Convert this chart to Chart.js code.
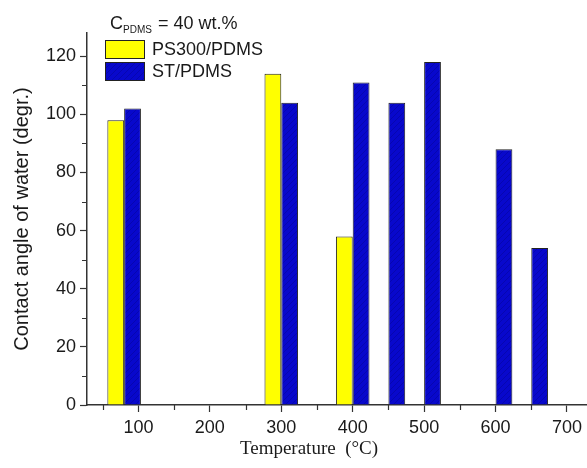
<!DOCTYPE html>
<html>
<head>
<meta charset="utf-8">
<script src="https://cdn.jsdelivr.net/npm/chart.js@4.4.1/dist/chart.umd.min.js"></script>
<style>
  html, body { margin: 0; padding: 0; background: #fff; }
  #wrap { width: 587px; height: 468px; }
</style>
</head>
<body>
<div id="wrap"><canvas id="myChart" width="587" height="468"></canvas></div>
<script>
// contact angle vs. annealing temperature
let ps300Temp = [80, 300, 400];
let ps300Angle = [98, 114, 58];
let stTemp = [80, 300, 400, 450, 500, 600, 650];
let stAngle = [102, 104, 111, 104, 118, 88, 54];

let xMajorTicks = [100, 200, 300, 400, 500, 600, 700];
let xMinorTicks = [50, 150, 250, 350, 450, 550, 650];
let yMajorTicks = [0, 20, 40, 60, 80, 100, 120];
let yMinorTicks = [10, 30, 50, 70, 90, 110];

let seriesNames = ["PS300/PDMS", "ST/PDMS"];

const axisColor = "#333";
const textColor = "#1a1a1a";
const sans = "'Liberation Sans', Arial, sans-serif";

// origin-like diagonal hatch for the blue bars
function hatch(color, line) {
  let c = document.createElement("canvas");
  c.width = 6;
  c.height = 6;
  let g = c.getContext("2d");
  g.fillStyle = color;
  g.fillRect(0, 0, 6, 6);
  g.strokeStyle = line;
  g.lineWidth = 1;
  g.beginPath();
  g.moveTo(0, 6); g.lineTo(6, 0);
  g.moveTo(-1, 1); g.lineTo(1, -1);
  g.moveTo(5, 7); g.lineTo(7, 5);
  g.stroke();
  return g.createPattern(c, "repeat");
}

const yellowFill = "#ffff00";
const blueFill = hatch("#0808cc", "#0606b0");

function toPoints(xs, ys) {
  return xs.map((x, i) => ({ x: x, y: ys[i] }));
}

// minor ticks, legend and x title drawn on top
const extras = {
  id: "extras",
  afterDraw(chart) {
    const c = chart.ctx;
    const xs = chart.scales.x;
    const ys = chart.scales.y;
    const area = chart.chartArea;
    c.save();
    c.strokeStyle = axisColor;
    c.lineWidth = 1.2;
    c.beginPath();
    xMinorTicks.forEach((v) => {
      let px = Math.round(xs.getPixelForValue(v)) + 0.5;
      c.moveTo(px, area.bottom);
      c.lineTo(px, area.bottom + 5);
    });
    yMinorTicks.forEach((v) => {
      let py = Math.round(ys.getPixelForValue(v)) + 0.5;
      c.moveTo(area.left, py);
      c.lineTo(area.left - 5, py);
    });
    c.stroke();

    // legend
    const lx = area.left + 18;
    c.fillStyle = textColor;
    c.textBaseline = "alphabetic";
    c.font = "18px " + sans;
    c.fillText("C", lx + 5, 29);
    let w = c.measureText("C").width;
    c.font = "10px " + sans;
    c.fillText("PDMS", lx + 5 + w, 33);
    let w2 = c.measureText("PDMS").width;
    c.font = "18px " + sans;
    c.fillText(" = 40 wt.%", lx + 5 + w + w2 + 1, 29);

    const fills = [yellowFill, blueFill];
    c.lineWidth = 1;
    c.strokeStyle = "#222";
    c.font = "18px " + sans;
    c.textBaseline = "middle";
    seriesNames.forEach((name, i) => {
      let top = 40 + i * 22;
      c.fillStyle = fills[i];
      c.fillRect(lx, top, 40, 19);
      c.strokeRect(lx + 0.5, top + 0.5, 39, 18);
      c.fillStyle = textColor;
      c.fillText(name, lx + 47, top + 10);
    });

    // x axis title
    c.font = "19px 'Liberation Serif', 'Times New Roman', serif";
    c.textAlign = "center";
    c.textBaseline = "middle";
    c.fillStyle = textColor;
    c.fillText("Temperature  (\u00b0C)", area.left + 222, 449);
    c.restore();
  },
};

var ctx = document.getElementById("myChart");

var myBarChart = new Chart(ctx, {
  type: "bar",
  data: {
    datasets: [
      {
        label: seriesNames[0],
        data: toPoints(ps300Temp, ps300Angle),
        backgroundColor: yellowFill,
        borderColor: "#222",
        borderWidth: 1,
      },
      {
        label: seriesNames[1],
        data: toPoints(stTemp, stAngle),
        backgroundColor: blueFill,
        borderColor: "#222",
        borderWidth: 1,
      },
    ],
  },
  options: {
    responsive: false,
    animation: false,
    devicePixelRatio: 1,
    categoryPercentage: 0.94,
    barPercentage: 1,
    layout: { padding: { top: 33, right: 0, left: 0, bottom: 0 } },
    plugins: {
      legend: { display: false },
      tooltip: { enabled: false },
    },
    scales: {
      x: {
        type: "linear",
        min: 28,
        max: 728,
        offset: false,
        afterBuildTicks: (scale) => {
          scale.ticks = xMajorTicks.map((v) => ({ value: v }));
        },
        afterFit: (scale) => {
          scale.height = 63;
        },
        grid: {
          offset: false,
          drawOnChartArea: false,
          tickLength: 7,
          tickColor: axisColor,
          tickWidth: 1.2,
        },
        border: { color: axisColor, width: 1.5 },
        ticks: {
          color: textColor,
          padding: 5,
          maxRotation: 0,
          font: { family: sans, size: 18 },
        },
      },
      y: {
        min: 0,
        max: 128,
        afterBuildTicks: (scale) => {
          scale.ticks = yMajorTicks.map((v) => ({ value: v }));
        },
        afterFit: (scale) => {
          scale.width = 87;
        },
        grid: {
          drawOnChartArea: false,
          tickLength: 7,
          tickColor: axisColor,
          tickWidth: 1.2,
        },
        border: { color: axisColor, width: 1.5 },
        ticks: {
          color: textColor,
          padding: 4,
          font: { family: sans, size: 18 },
        },
        title: {
          display: true,
          text: "Contact angle of water (degr.)",
          color: textColor,
          padding: { top: 10, bottom: 0 },
          font: { family: sans, size: 20 },
        },
      },
    },
  },
  plugins: [extras],
});
</script>
</body>
</html>
